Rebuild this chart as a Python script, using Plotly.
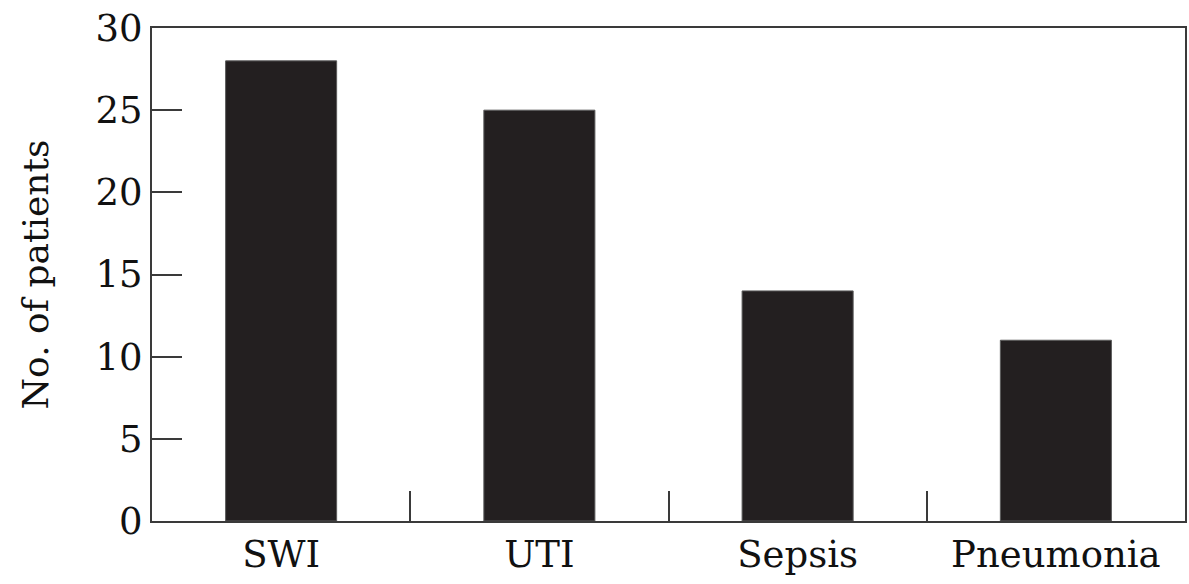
import plotly.graph_objects as go

# Infection categories and patient counts
categories = ["SWI", "UTI", "Sepsis", "Pneumonia"]
patients = [28, 25, 14, 11]
y_ticks = [0, 5, 10, 15, 20, 25, 30]

FONT = "DejaVu Serif"
INK = "#231f20"
LINE = "#3a3a3a"

fig = go.Figure(
    go.Bar(
        x=categories,
        y=patients,
        width=0.43,
        marker=dict(color=INK, line=dict(color="#5a5a5a", width=1)),
    )
)

fig.update_layout(
    width=1189,
    height=584,
    margin=dict(l=152, r=2, t=28, b=63),
    paper_bgcolor="white",
    plot_bgcolor="white",
    showlegend=False,
    font=dict(family=FONT, color="#111111", size=37),
)

fig.update_xaxes(
    type="category",
    range=[-0.5, 3.5],
    tickson="boundaries",
    ticks="inside",
    ticklen=30,
    tickwidth=2,
    tickcolor=LINE,
    showline=True,
    linecolor=LINE,
    linewidth=2,
    mirror=True,
    showgrid=False,
    tickfont=dict(family=FONT, size=37),
)

fig.update_yaxes(
    range=[0, 30],
    tickvals=y_ticks,
    ticks="inside",
    ticklen=30,
    tickwidth=2,
    tickcolor=LINE,
    showline=True,
    linecolor=LINE,
    linewidth=2,
    mirror=True,
    showgrid=False,
    zeroline=False,
    tickfont=dict(family=FONT, size=37),
    title=dict(text="No. of patients", font=dict(family=FONT, size=36), standoff=36),
)

fig.write_html("out.html")
